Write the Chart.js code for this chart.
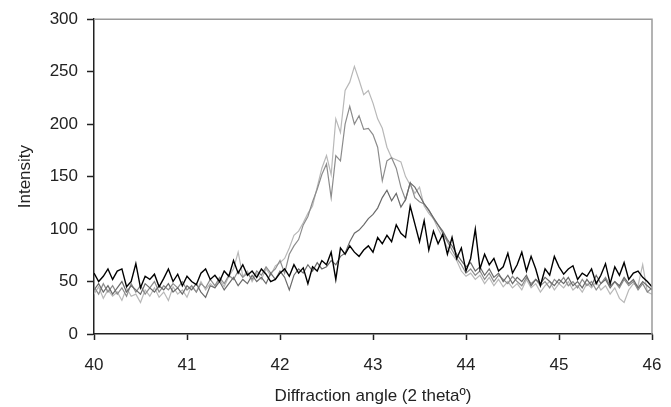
<!DOCTYPE html>
<html>
<head>
<meta charset="utf-8">
<script src="https://cdn.jsdelivr.net/npm/chart.js@4/dist/chart.umd.min.js"></script>
<style>
  html, body { margin: 0; padding: 0; background: #fff; }
  #wrap { width: 671px; height: 407px; }
</style>
</head>
<body>
<div id="wrap"><canvas id="grafico"></canvas></div>
<script>
// angles are sampled every 0.05 degree from 40 to 46
const anguloInicio = 40;
const anguloPaso = 0.05;

const xTicks = [40, 41, 42, 43, 44, 45, 46];
const yTicks = [0, 50, 100, 150, 200, 250, 300];

// light grey pattern (tallest peak)
const serieClara = [
  38, 45, 34, 42, 36, 40, 32, 44, 36, 38, 30, 42, 36, 44, 35, 40, 32, 45, 38, 42,
  35, 46, 40, 50, 42, 48, 44, 52, 45, 55, 62, 78, 55, 60, 50, 58, 52, 62, 56, 65,
  68, 72, 82, 94, 98, 106, 115, 122, 140, 158, 170, 152, 205, 192, 232, 240, 255, 242, 228, 232,
  220, 205, 196, 178, 168, 166, 164, 150, 142, 134, 140, 122, 115, 110, 100, 92, 82, 76, 70, 60,
  55, 58, 52, 56, 48, 54, 46, 52, 45, 50, 44, 48, 42, 52, 44, 48, 40, 46, 50, 42,
  48, 44, 50, 42, 46, 40, 48, 44, 50, 42, 46, 38, 44, 34, 30, 42, 48, 46, 66, 40,
  38
];

// medium grey pattern
const serieMedia = [
  45, 38, 48, 40, 46, 38, 44, 36, 48, 40, 46, 38, 44, 50, 40, 46, 42, 48, 44, 50,
  42, 46, 40, 48, 44, 52, 46, 54, 48, 56, 52, 60, 54, 58, 52, 60, 56, 64, 58, 62,
  70, 58, 76, 84, 90, 104, 112, 126, 138, 152, 162, 130, 170, 165, 200, 217, 200, 208, 195, 196,
  190, 178, 146, 165, 168, 158, 140, 128, 144, 130, 126, 124, 118, 110, 104, 96, 88, 80, 72, 66,
  58, 62, 56, 60, 52, 58, 50, 56, 52, 48, 55, 50, 46, 54, 48, 52, 46, 50, 44, 52,
  48, 54, 46, 50, 44, 52, 46, 50, 42, 48, 54, 46, 50, 44, 52, 46, 50, 42, 48, 40,
  44
];

// dark grey pattern (peak near 43.4)
const serieOscura = [
  42, 48, 40, 46, 38, 44, 50, 40, 46, 42, 38, 48, 44, 40, 46, 42, 48, 40, 44, 38,
  46, 42, 48, 40, 35, 46, 44, 50, 42, 48, 54, 46, 52, 48, 56, 50, 54, 48, 58, 52,
  60, 54, 42, 56, 62, 58, 66, 60, 68, 62, 64, 70, 66, 74, 77, 88, 96, 99, 104, 110,
  114, 120, 130, 137, 127, 134, 121, 128, 144, 140, 132, 124, 118, 111, 104, 98, 90, 84, 76, 70,
  64, 68, 60, 64, 56, 62, 54, 58, 50, 56, 48, 54, 50, 56, 46, 52, 48, 54, 50, 46,
  52, 48, 54, 46, 50, 44, 52, 46, 56, 48, 52, 44, 50, 46, 54, 48, 52, 44, 50, 46,
  42
];

// black pattern (broad, low peak)
const serieNegra = [
  58, 50, 55, 62, 52, 60, 62, 45, 50, 67, 44, 55, 52, 57, 45, 53, 62, 50, 57, 46,
  55, 50, 47, 58, 62, 52, 56, 50, 60, 55, 70, 58, 66, 56, 60, 54, 62, 57, 50, 52,
  58, 62, 55, 66, 58, 63, 48, 64, 60, 70, 66, 78, 52, 82, 76, 84, 78, 74, 80, 84,
  78, 92, 86, 94, 88, 104, 96, 92, 122, 105, 88, 108, 80, 98, 86, 95, 76, 92, 72, 82,
  60, 72, 100, 62, 76, 66, 72, 60, 64, 77, 58, 66, 78, 60, 74, 62, 46, 62, 56, 74,
  64, 57, 62, 65, 52, 58, 55, 62, 48, 56, 67, 48, 64, 56, 68, 52, 58, 60, 54, 50,
  45
];

function aPuntos(valores) {
  return valores.map((v, i) => ({ x: +(anguloInicio + i * anguloPaso).toFixed(2), y: v }));
}

// top and right frame lines in grey
const marco = {
  id: 'marco',
  afterDraw(chart) {
    const { ctx, chartArea: a } = chart;
    ctx.save();
    ctx.strokeStyle = '#9a9a9a';
    ctx.lineWidth = 1.5;
    ctx.beginPath();
    ctx.moveTo(a.left, a.top);
    ctx.lineTo(a.right, a.top);
    ctx.lineTo(a.right, a.bottom);
    ctx.stroke();
    ctx.restore();
  }
};

const fuente = { family: '"Liberation Sans", Arial, sans-serif', size: 17 };

new Chart(document.getElementById('grafico'), {
  type: 'line',
  data: {
    datasets: [
      { data: aPuntos(serieNegra), borderColor: '#000000', borderWidth: 1.4, order: 0 },
      { data: aPuntos(serieOscura), borderColor: '#6a6a6a', borderWidth: 1.2, order: 1 },
      { data: aPuntos(serieMedia), borderColor: '#8c8c8c', borderWidth: 1.2, order: 2 },
      { data: aPuntos(serieClara), borderColor: '#b8b8b8', borderWidth: 1.2, order: 3 }
    ]
  },
  options: {
    responsive: true,
    maintainAspectRatio: false,
    animation: false,
    layout: { padding: { top: 18, right: 19, left: 0, bottom: 0 } },
    elements: { point: { radius: 0 }, line: { tension: 0 } },
    plugins: { legend: { display: false }, tooltip: { enabled: false } },
    scales: {
      x: {
        type: 'linear',
        min: 40,
        max: 46,
        afterBuildTicks: s => { s.ticks = xTicks.map(v => ({ value: v })); },
        afterFit: s => { s.height = 73; s.paddingLeft = 0; s.paddingRight = 0; },
        border: { color: '#222', width: 1.5 },
        grid: { drawOnChartArea: false, drawTicks: true, tickLength: 6, tickColor: '#222', tickWidth: 1.5 },
        ticks: { color: '#222', font: fuente, padding: 15, maxRotation: 0 },
        title: { display: true, text: 'Diffraction angle (2 theta\u00ba)', color: '#222', font: fuente, padding: { top: 0, bottom: 0 } }
      },
      y: {
        min: 0,
        max: 300,
        afterBuildTicks: s => { s.ticks = yTicks.map(v => ({ value: v })); },
        afterFit: s => { s.width = 94; },
        border: { color: '#222', width: 1.5 },
        grid: { drawOnChartArea: false, drawTicks: true, tickLength: 7, tickColor: '#222', tickWidth: 1.5 },
        ticks: { color: '#222', font: fuente, padding: 9 },
        title: { display: true, text: 'Intensity', color: '#222', font: fuente, padding: { top: 15, bottom: 0 } }
      }
    }
  },
  plugins: [marco]
});
</script>
</body>
</html>
